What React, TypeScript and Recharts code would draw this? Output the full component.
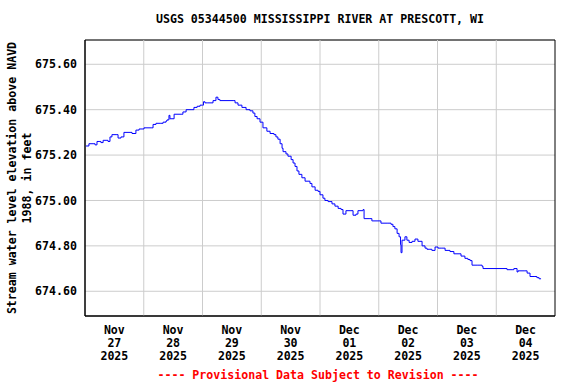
import { LineChart, Line, XAxis, YAxis, CartesianGrid, ReferenceLine, ReferenceArea } from 'recharts';

// hours since Nov 27 2025 00:00
const hours = [
  0.4, 1.6, 3.3, 4.1, 4.9, 6.1, 6.5, 7.4, 8.6, 9.4, 10.2, 11.0, 12.7, 13.5, 14.7, 15.9, 18.4, 19.2, 20.8, 22.1,
  23.3, 24.1, 27.0, 27.8, 29.0, 31.0, 31.9, 33.1, 33.5, 34.3, 34.7, 36.4, 39.6, 40.0, 41.3, 43.7, 44.5, 45.8,
  47.0, 48.0, 48.4, 49.0, 50.2, 52.3, 53.5, 54.3, 55.1, 60.5, 61.3, 62.5, 64.1, 65.8, 67.4, 68.6, 69.4, 70.3,
  71.5, 72.7, 74.3, 75.6, 77.2, 78.0, 78.8, 79.7, 80.5, 80.9, 82.1, 82.9, 84.2, 85.0, 85.8, 86.6, 87.4, 88.6,
  89.9, 91.1, 91.9, 92.7, 94.0, 95.2, 96.0, 97.2, 98.0, 99.3, 100.9, 102.1, 103.4, 104.6, 105.4, 106.6, 108.3,
  109.5, 110.7, 111.5, 113.2, 113.6, 114.0, 116.4, 117.2, 117.6, 120.5, 120.9, 123.4, 125.0, 125.8, 126.6,
  127.5, 128.3, 128.9, 129.1, 129.5, 130.7, 131.5, 132.4, 133.6, 134.8, 136.0, 137.7, 138.9, 139.7, 140.9,
  141.7, 143.0, 144.2, 145.8, 147.1, 148.3, 149.1, 150.7, 153.2, 153.6, 155.2, 156.4, 157.3, 158.1, 160.5,
  162.2, 162.6, 172.0, 172.4, 174.8, 175.2, 176.5, 176.9, 179.7, 180.6, 181.8, 183.8, 184.6, 185.5, 186.3,
];

const stage = [
  675.24, 675.25, 675.25, 675.245, 675.26, 675.26, 675.255, 675.265, 675.265, 675.26, 675.28, 675.29, 675.29,
  675.275, 675.28, 675.3, 675.3, 675.295, 675.31, 675.315, 675.315, 675.32, 675.32, 675.335, 675.34, 675.34,
  675.345, 675.35, 675.355, 675.375, 675.36, 675.38, 675.38, 675.39, 675.4, 675.4, 675.41, 675.415, 675.42,
  675.42, 675.435, 675.43, 675.43, 675.44, 675.455, 675.445, 675.44, 675.44, 675.43, 675.42, 675.41, 675.4,
  675.395, 675.385, 675.37, 675.36, 675.345, 675.32, 675.305, 675.295, 675.29, 675.28, 675.27, 675.25, 675.23,
  675.215, 675.205, 675.195, 675.18, 675.165, 675.15, 675.13, 675.115, 675.1, 675.085, 675.085, 675.075,
  675.06, 675.045, 675.04, 675.025, 675.01, 675.0, 674.995, 674.985, 674.975, 674.965, 674.96, 674.94,
  674.955, 674.955, 674.935, 674.94, 674.955, 674.955, 674.96, 674.92, 674.92, 674.91, 674.91, 674.91,
  674.9, 674.9, 674.895, 674.885, 674.875, 674.855, 674.84, 674.805, 674.77, 674.825, 674.84, 674.825,
  674.815, 674.82, 674.83, 674.82, 674.8, 674.79, 674.785, 674.785, 674.78, 674.795, 674.79, 674.79, 674.78,
  674.78, 674.775, 674.765, 674.765, 674.755, 674.745, 674.74, 674.735, 674.715, 674.715, 674.71, 674.7,
  674.7, 674.695, 674.695, 674.7, 674.685, 674.69, 674.69, 674.68, 674.665, 674.665, 674.66, 674.655, 674.655,
];

const dayTicks = [12, 36, 60, 84, 108, 132, 156, 180];
const dayLabels = [
  ['Nov', '27', '2025'],
  ['Nov', '28', '2025'],
  ['Nov', '29', '2025'],
  ['Nov', '30', '2025'],
  ['Dec', '01', '2025'],
  ['Dec', '02', '2025'],
  ['Dec', '03', '2025'],
  ['Dec', '04', '2025'],
];
const midnights = [24, 48, 72, 96, 120, 144, 168];
const yTicks = [674.6, 674.8, 675.0, 675.2, 675.4, 675.6];

const data = hours.map((h, i) => ({ h, v: stage[i] }));

const font = '"DejaVu Sans Mono", monospace';
const X_MAX = 192;
const Y_MIN = 674.491;
const Y_MAX = 675.707;

function DayTick(props: any) {
  const { x, y, payload } = props;
  const idx = dayTicks.indexOf(payload.value);
  const lines = dayLabels[idx] || [];
  return (
    <text x={x} y={y} textAnchor="middle" fontFamily={font} fontWeight="bold" fontSize={11.6} fill="#000">
      {lines.map((l, i) => (
        <tspan key={i} x={x} dy={i === 0 ? 18 : 13}>
          {l}
        </tspan>
      ))}
    </text>
  );
}

export default function App() {
  return (
    <div style={{ position: 'absolute', left: 0, top: 0, width: 576, height: 384, background: '#fff' }}>
      <div
        style={{
          position: 'absolute', left: 320, top: 12, transform: 'translateX(-50%)', whiteSpace: 'nowrap',
          fontFamily: font, fontWeight: 'bold', fontSize: 11.6, lineHeight: '14px', color: '#000',
        }}
      >
        USGS 05344500 MISSISSIPPI RIVER AT PRESCOTT, WI
      </div>
      <div
        style={{
          position: 'absolute', left: 20, top: 178, transform: 'translate(-50%, -50%) rotate(-90deg)',
          whiteSpace: 'nowrap', textAlign: 'center', fontFamily: font, fontWeight: 'bold', fontSize: 11.6,
          lineHeight: '15px', color: '#000',
        }}
      >
        Stream water level elevation above NAVD
        <br />
        1988, in feet
      </div>
      <LineChart width={576} height={384} data={data} margin={{ top: 40, right: 21, bottom: 0, left: 0 }}>
        <CartesianGrid vertical={false} stroke="#cccccc" />
        {midnights.map((m) => (
          <ReferenceLine key={m} x={m} stroke="#cccccc" />
        ))}
        <XAxis
          dataKey="h"
          type="number"
          domain={[0, X_MAX]}
          ticks={dayTicks}
          tick={<DayTick />}
          tickLine={false}
          tickSize={0}
          tickMargin={0}
          height={68}
          axisLine={{ stroke: '#000' }}
          allowDataOverflow
        />
        <YAxis
          type="number"
          domain={[Y_MIN, Y_MAX]}
          ticks={yTicks}
          tickFormatter={(v: number) => v.toFixed(2)}
          tick={{ fontFamily: font, fontWeight: 'bold', fontSize: 11.6, fill: '#000' }}
          tickLine={false}
          tickSize={0}
          tickMargin={8}
          width={85}
          axisLine={{ stroke: '#000' }}
          allowDataOverflow
        />
        <ReferenceArea x1={0} x2={X_MAX} y1={Y_MIN} y2={Y_MAX} fill="none" stroke="#000" strokeOpacity={1} />
        <Line
          type="stepAfter"
          dataKey="v"
          stroke="#0000ff"
          strokeWidth={1}
          dot={false}
          isAnimationActive={false}
        />
      </LineChart>
      <div
        style={{
          position: 'absolute', left: 318, top: 368, transform: 'translateX(-50%)', whiteSpace: 'nowrap',
          fontFamily: font, fontWeight: 'bold', fontSize: 11.6, lineHeight: '14px', color: '#ff0000',
        }}
      >
        ---- Provisional Data Subject to Revision ----
      </div>
    </div>
  );
}
